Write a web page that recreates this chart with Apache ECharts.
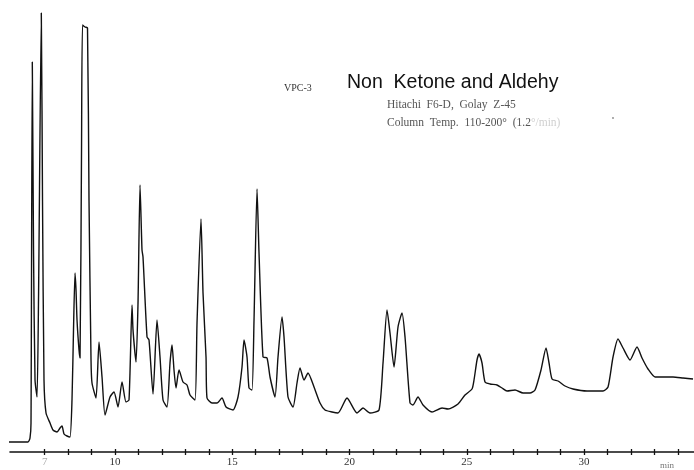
<!DOCTYPE html>
<html>
<head>
<meta charset="utf-8">
<script src="https://cdn.jsdelivr.net/npm/echarts@6/dist/echarts.min.js"></script>
<style>
  html, body { margin: 0; padding: 0; background: #fff; }
  #chart { width: 694px; height: 470px; }
</style>
</head>
<body>
<div id="chart"></div>
<script>
// retention time (min)
var times = [
  5.437, 6.290, 6.375, 6.418, 6.473, 6.525, 6.589, 6.674, 6.738, 6.857,
  6.908, 6.972, 7.058, 7.228, 7.356, 7.527, 7.655, 7.740, 7.825, 7.953,
  8.081, 8.166, 8.230, 8.294, 8.337, 8.380, 8.465, 8.508, 8.572, 8.614,
  8.721, 8.827, 8.891, 8.977, 9.019, 9.190, 9.318, 9.446, 9.574, 9.787,
  9.957, 10.128, 10.299, 10.469, 10.597, 10.725, 10.768, 10.896, 10.981, 11.066,
  11.151, 11.194, 11.365, 11.450, 11.621, 11.791, 11.919, 12.047, 12.218, 12.345,
  12.431, 12.516, 12.601, 12.729, 12.900, 13.070, 13.198, 13.412, 13.497, 13.667,
  13.753, 13.881, 13.923, 14.137, 14.350, 14.563, 14.734, 15.032, 15.245, 15.416,
  15.501, 15.629, 15.714, 15.842, 15.928, 16.056, 16.141, 16.311, 16.482, 16.610,
  16.823, 16.951, 17.122, 17.207, 17.377, 17.591, 17.761, 17.889, 18.060, 18.230,
  18.486, 18.742, 18.955, 19.254, 19.510, 19.893, 20.320, 20.576, 20.874, 21.258,
  21.429, 21.599, 21.727, 21.898, 22.068, 22.239, 22.367, 22.580, 22.708, 22.921,
  23.134, 23.518, 23.945, 24.201, 24.627, 24.925, 25.224, 25.309, 25.437, 25.522,
  25.650, 25.778, 25.992, 26.290, 26.503, 26.717, 27.058, 27.399, 27.697, 27.911,
  28.166, 28.380, 28.508, 28.636, 28.891, 29.190, 29.531, 30.128, 30.810, 31.024,
  31.237, 31.450, 31.663, 31.962, 32.260, 32.473, 32.729, 33.028, 33.369, 33.795,
  34.222, 34.648
];
// detector response (arbitrary units)
var signal = [
  10, 10, 14, 29, 390, 202, 72, 55, 152, 439,
  252, 72, 39, 29, 22, 20, 24, 26, 18, 16,
  15, 52, 122, 179, 162, 132, 102, 94, 302, 427,
  425, 424, 252, 92, 69, 54, 110, 75, 37, 55,
  60, 45, 70, 50, 52, 147, 122, 90, 149, 267,
  202, 195, 115, 112, 58, 132, 95, 52, 45, 89,
  107, 82, 64, 82, 70, 67, 57, 52, 129, 233,
  159, 95, 54, 49, 49, 54, 45, 42, 55, 85,
  112, 95, 64, 62, 132, 263, 199, 95, 94, 75,
  55, 95, 135, 115, 55, 45, 69, 84, 72, 79,
  65, 49, 42, 40, 39, 54, 39, 44, 39, 42,
  89, 142, 119, 85, 125, 139, 115, 49, 47, 55,
  47, 40, 44, 43, 48, 57, 63, 72, 92, 98,
  89, 70, 68, 67, 64, 61, 62, 59, 59, 62,
  82, 104, 89, 73, 71, 66, 63, 61, 61, 65,
  95, 113, 104, 92, 105, 94, 83, 75, 75, 75,
  74, 73
];
var tickMinutes = [7, 8, 9, 10, 11, 12, 13, 14, 15, 16, 17, 18, 19, 20, 21, 22, 23, 24, 25, 26, 27, 28, 29, 30, 31, 32, 33, 34];
var labelMinutes = [7, 10, 15, 20, 25, 30];

var chart = echarts.init(document.getElementById("chart"));

var trace = [];
for (var i = 0; i < times.length; i++) {
  trace.push([times[i], signal[i]]);
}

var option = {
  animation: false,
  backgroundColor: "#fff",
  grid: { left: 10, right: 0, top: 0, bottom: 18 },
  xAxis: [
    {
      type: "value",
      min: 5.522,
      max: 34.69,
      splitLine: { show: false },
      axisLine: { show: true, onZero: false, lineStyle: { color: "#111", width: 1.6 } },
      axisTick: { show: true, customValues: tickMinutes, length: 3, lineStyle: { color: "#111", width: 1.3 } },
      axisLabel: {
        customValues: labelMinutes,
        margin: 5,
        fontFamily: "Liberation Serif",
        fontSize: 11,
        color: "#333",
        formatter: function (v) {
          return v === 7 ? "{f|7}" : String(v);
        },
        rich: { f: { color: "#aaa", fontFamily: "Liberation Serif", fontSize: 11 } }
      }
    },
    {
      type: "value",
      position: "bottom",
      offset: 0,
      min: 5.522,
      max: 34.69,
      splitLine: { show: false },
      axisLine: { show: false },
      axisLabel: { show: false },
      axisTick: { show: true, inside: true, customValues: tickMinutes, length: 3, lineStyle: { color: "#111", width: 1.3 } }
    }
  ],
  yAxis: {
    type: "value",
    min: 0,
    max: 452,
    show: false
  },
  graphic: [
    { type: "text", left: 284, top: 83, style: { text: "VPC-3", font: "10px 'Liberation Serif'", fill: "#333" } },
    { type: "text", left: 347, top: 73, style: { text: "Non  Ketone and Aldehy", font: "19.5px 'Liberation Sans'", fill: "#111" } },
    { type: "text", left: 387, top: 99, style: { text: "Hitachi  F6-D,  Golay  Z-45", font: "11.5px 'Liberation Serif'", fill: "#555" } },
    { type: "text", left: 387, top: 117, style: {
        text: "{a|Column  Temp.  110-200°  (1.2}{b|°/min)}",
        rich: {
          a: { font: "11.5px 'Liberation Serif'", fill: "#555" },
          b: { font: "11.5px 'Liberation Serif'", fill: "#d0d0d0" }
        }
      } },
    { type: "circle", shape: { cx: 613, cy: 118, r: 0.9 }, style: { fill: "#888" } },
    { type: "text", left: 660, top: 461, style: { text: "min", font: "9px 'Liberation Serif'", fill: "#777" } }
  ],
  series: [
    {
      type: "line",
      data: trace,
      clip: false,
      showSymbol: false,
      smooth: 0.2,
      lineStyle: { color: "#111", width: 1.4 }
    }
  ]
};

chart.setOption(option);
</script>
</body>
</html>
